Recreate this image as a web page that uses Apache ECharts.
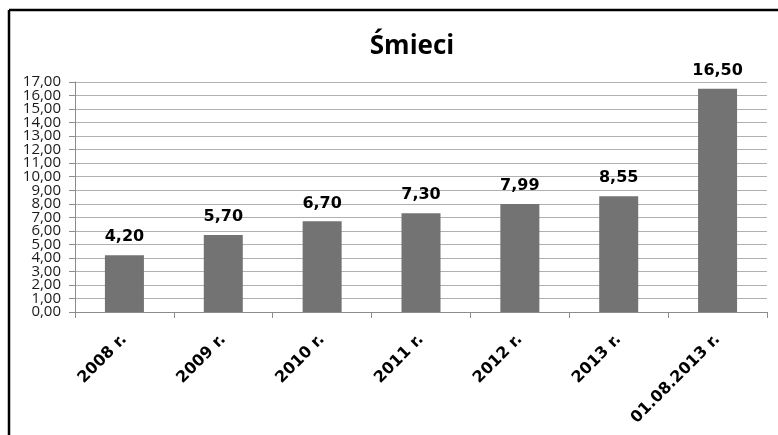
<!DOCTYPE html>
<html>
<head>
<meta charset="utf-8">
<script src="https://cdn.jsdelivr.net/npm/echarts@6/dist/echarts.min.js"></script>
<style>
  html, body { margin: 0; padding: 0; background: #fff; }
  #chart { width: 778px; height: 435px; }
</style>
</head>
<body>
<div id="chart"></div>
<script>
// dane
var categories = ["2008 r.", "2009 r.", "2010 r.", "2011 r.", "2012 r.", "2013 r.", "01.08.2013 r."];
var values = [4.20, 5.70, 6.70, 7.30, 7.99, 8.55, 16.50];
var yMin = 0;
var yMax = 17;
var yStep = 1;
// etykiety osi Y rozdzielone na dwie osie, żeby ECharts ich nie ukrywał
var yTicksEven = [0, 2, 4, 6, 8, 10, 12, 14, 16];
var yTicksOdd = [1, 3, 5, 7, 9, 11, 13, 15, 17];

function plNum(v) {
  return v.toFixed(2).replace(".", ",");
}

var yLabelStyle = {
  margin: 14,
  showMinLabel: true,
  showMaxLabel: true,
  hideOverlap: false,
  fontFamily: "Open Sans",
  fontSize: 15,
  color: "#1a1a1a",
  formatter: function (v) { return plNum(v); }
};

var myChart = echarts.init(document.getElementById("chart"));
var option = {
  backgroundColor: "#ffffff",
  animation: false,
  title: {
    text: "Śmieci",
    left: 407,
    top: 29,
    textAlign: "center",
    textStyle: {
      fontFamily: "Open Sans",
      fontWeight: "bold",
      fontSize: 26,
      color: "#000"
    }
  },
  // ramka wykresu (góra i lewa strona)
  graphic: [
    { type: "line", shape: { x1: 9, y1: 10, x2: 778, y2: 10 }, style: { stroke: "#000", lineWidth: 2.5 } },
    { type: "line", shape: { x1: 9, y1: 10, x2: 9, y2: 435 }, style: { stroke: "#000", lineWidth: 2.5 } }
  ],
  grid: {
    left: 75,
    right: 11,
    top: 82,
    bottom: 123
  },
  xAxis: {
    type: "category",
    data: categories,
    axisLine: { lineStyle: { color: "#8c8c8c", width: 1 } },
    axisTick: { show: true, length: 6, lineStyle: { color: "#8c8c8c" } },
    axisLabel: {
      interval: 0,
      rotate: 45,
      margin: 25,
      fontFamily: "DejaVu Sans",
      fontWeight: "bold",
      fontSize: 16,
      color: "#000"
    }
  },
  yAxis: [
    {
      type: "value",
      min: yMin,
      max: yMax,
      interval: yStep,
      axisLine: { show: true, lineStyle: { color: "#8c8c8c", width: 1 } },
      axisTick: { show: true, length: 6, lineStyle: { color: "#8c8c8c" } },
      splitLine: { lineStyle: { color: "#b0b0b0", width: 1 } },
      axisLabel: Object.assign({}, yLabelStyle, { customValues: yTicksEven })
    },
    {
      type: "value",
      position: "left",
      min: yMin,
      max: yMax,
      interval: yStep,
      axisLine: { show: false },
      axisTick: { show: false },
      splitLine: { show: false },
      axisLabel: Object.assign({}, yLabelStyle, { customValues: yTicksOdd })
    }
  ],
  series: [
    {
      type: "bar",
      yAxisIndex: 0,
      data: values,
      barWidth: 39,
      itemStyle: { color: "#737373" },
      label: {
        show: true,
        position: "top",
        distance: 10,
        fontFamily: "DejaVu Sans",
        fontWeight: "bold",
        fontSize: 16,
        color: "#000",
        formatter: function (p) { return plNum(p.value); }
      }
    }
  ]
};
myChart.setOption(option);
</script>
</body>
</html>
